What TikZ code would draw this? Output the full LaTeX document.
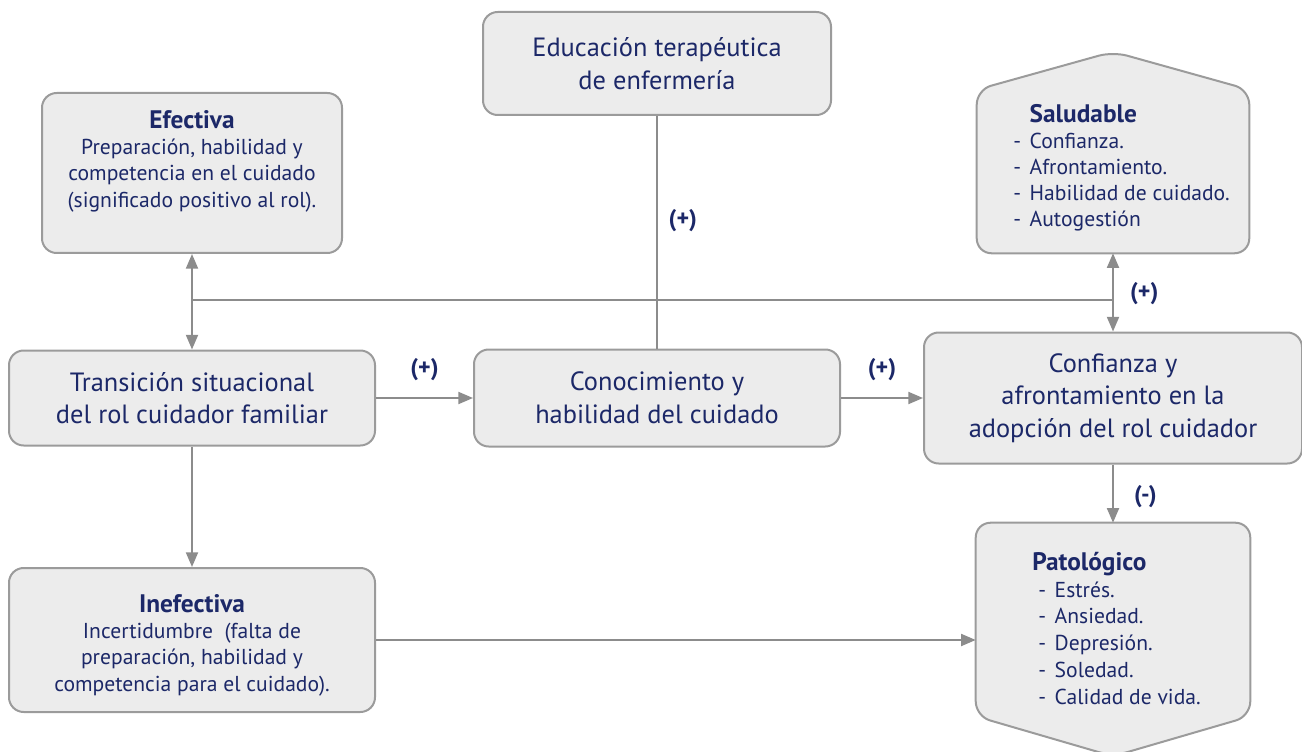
\documentclass[tikz,border=0pt]{standalone}
\usepackage{fontspec}
\setmainfont{PT Sans}
\usetikzlibrary{arrows.meta,calc}
\definecolor{azul}{RGB}{28,40,104}
\definecolor{gris}{RGB}{140,140,140}
\definecolor{borde}{RGB}{155,155,155}
\definecolor{fondo}{RGB}{236,236,236}
\newcommand\titulo{\fontsize{19}{19.7}\selectfont\bfseries}
\begin{document}
\begin{tikzpicture}[x=0.75pt, y=-0.75pt, line join=round, >={Triangle[length=11pt,width=9pt]},
  forma/.style={draw=borde, fill=fondo, line width=1.5pt, rounded corners=11pt},
  caja/.style={forma, inner sep=0pt},
  grande/.style={text=azul, align=center, font=\fontsize{19.8}{24.5}\selectfont},
  chico/.style={text=azul, align=center, font=\fontsize{16.2}{19.7}\selectfont},
  lista/.style={text=azul, inner sep=0pt, anchor=north west, font=\fontsize{16.2}{19.5}\selectfont},
  signo/.style={text=azul, inner sep=0pt, font=\fontsize{18}{20}\selectfont\bfseries},
  linea/.style={draw=gris, line width=1.5pt}]
\def\px{0.75pt}
\useasboundingbox (0,0) rectangle (1302,752);
% cajas
\node[caja, grande, minimum width=348*\px, minimum height=103*\px] (edu) at (657,63.5) {Educación terapéutica\\de enfermería};
\node[caja, minimum width=300*\px, minimum height=160*\px] (efec) at (192,173) {};
\node[caja, grande, minimum width=366*\px, minimum height=95*\px] (trans) at (192,398) {Transición situacional\\del rol cuidador familiar};
\node[caja, grande, minimum width=366*\px, minimum height=97*\px] (conoc) at (657,398) {Conocimiento y\\habilidad del cuidado};
\node[caja, grande, minimum width=378*\px, minimum height=131*\px] (conf) at (1113,398) {Confianza y\\afrontamiento en la\\adopción del rol cuidador};
\node[caja, minimum width=366*\px, minimum height=144*\px] (inef) at (192,640) {};
\node[minimum width=272*\px, minimum height=163*\px, inner sep=0pt] (salud) at (1113,171.5) {};
\node[minimum width=274*\px, minimum height=193*\px, inner sep=0pt] (patol) at (1113,619.5) {};
\draw[forma] (salud.south west) -- (salud.north west) -- ($(salud.north)+(0,-38)$) -- (salud.north east) -- (salud.south east) -- cycle;
\draw[forma] (patol.north west) -- (patol.south west) -- ($(patol.south)+(0,40)$) -- (patol.south east) -- (patol.north east) -- cycle;
% textos
\node[chico] (efec-t) at (192,161) {{\titulo Efectiva}\\Preparación, habilidad y\\competencia en el cuidado\\(significado positivo al rol).};
\node[chico] (inef-t) at (192,645) {{\titulo Inefectiva}\\Incertidumbre\ \ (falta de\\preparación, habilidad y\\competencia para el cuidado).};
\node[lista] (salud-t) at (1013,104) {\begin{tabular}{@{}l@{\hspace{6.5pt}}l@{}}
 & {\titulo Saludable}\\ - & Confianza.\\ - & Afrontamiento.\\ - & Habilidad de cuidado.\\ - & Autogestión\end{tabular}};
\node[lista, font=\fontsize{16.2}{20.2}\selectfont] (patol-t) at (1032,551) {\begin{tabular}{@{\hspace{4.5pt}}l@{\hspace{6.5pt}}l@{}}
\multicolumn{2}{@{}l@{}}{\titulo Patológico}\\ - & Estrés.\\ - & Ansiedad.\\ - & Depresión.\\ - & Soledad.\\ - & Calidad de vida.\end{tabular}};
% conexiones
\coordinate (jl) at (192,300);
\coordinate (jr) at (1113,300);
\draw[linea] (jl) -- (jr);
\draw[linea] (edu) -- node[signo, pos=0.45, right=8pt] (s-edu) {(+)} (conoc);
\draw[linea, <->] (efec) -- (trans);
\draw[linea, <->] (salud) -- node[signo, pos=0.52, right=12pt] (s-salud) {(+)} (conf);
\draw[linea, ->] (trans) -- node[signo, above=12pt] (s-trans) {(+)} (conoc);
\draw[linea, ->] (conoc) -- node[signo, above=12pt] (s-conoc) {(+)} (conf);
\draw[linea, ->] (conf) -- node[signo, pos=0.55, right=15pt] (s-conf) {(-)} (patol);
\draw[linea, ->] (trans) -- (inef);
\draw[linea, ->] (inef.east) -- (inef.east -| patol.west);
\end{tikzpicture}
\end{document}
